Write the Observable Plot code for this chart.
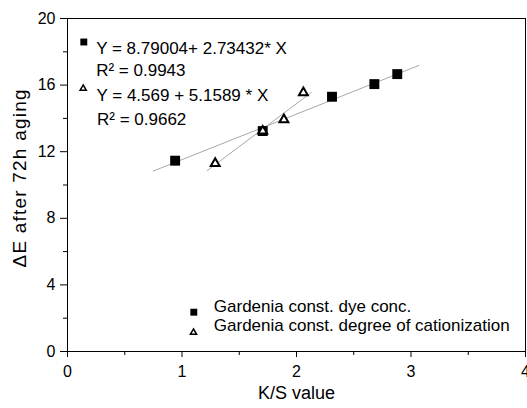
<!DOCTYPE html>
<html>
<head>
<meta charset="utf-8">
<script src="https://cdn.jsdelivr.net/npm/d3@7"></script>
<script src="https://cdn.jsdelivr.net/npm/@observablehq/plot@0.6"></script>
<style>
  html, body { margin: 0; padding: 0; background: #fff; }
  #chart svg { display: block; font-family: "Liberation Sans", Arial, sans-serif; }
</style>
</head>
<body>
<div id="chart"></div>
<script>
// Colour difference after 72 h ageing versus K/S for gardenia-dyed samples
const dyeKS = [0.94, 1.705, 2.31, 2.68, 2.88];
const dyeDE = [11.46, 13.24, 15.3, 16.06, 16.66];
const catKS = [1.29, 1.705, 1.89, 2.06];
const catDE = [11.3, 13.24, 13.93, 15.55];

const seriesNames = ["Gardenia const. dye conc.", "Gardenia const. degree of cationization"];

// Linear fits: Y = a + b * X
const fitIntercept = [8.79004, 4.569];
const fitSlope = [2.73432, 5.1589];
const fitFrom = [0.75, 1.22];
const fitTo = [3.07, 2.13];
const eqText = ["Y = 8.79004+ 2.73432* X", "Y = 4.569 + 5.1589 * X"];
const r2Text = ["R\u00b2 = 0.9943", "R\u00b2 = 0.9662"];

const xTicks = [0, 1, 2, 3, 4];
const xMinor = [0.5, 1.5, 2.5, 3.5];
const yTicks = [0, 4, 8, 12, 16, 20];
const yMinor = [2, 6, 10, 14, 18];
const xTitle = "K/S value";
const yTitle = "\u0394E after 72h aging";

const dyeData = dyeKS.map((k, i) => ({ks: k, de: dyeDE[i]}));
const catData = catKS.map((k, i) => ({ks: k, de: catDE[i]}));
const fitData = fitIntercept.flatMap((a, i) => [fitFrom[i], fitTo[i]].map(x => ({ks: x, de: a + fitSlope[i] * x, fit: i})));

const one = [0];
const legendFont = 17;
const intFormat = d3.format("d");

const chart = Plot.plot({
  width: 527,
  height: 408,
  marginLeft: 67,
  marginRight: 2,
  marginTop: 18,
  marginBottom: 57,
  style: {fontFamily: "'Liberation Sans', Arial, sans-serif", background: "#fff", color: "#000"},
  x: {domain: [0, 4], label: null},
  y: {domain: [0, 20], label: null},
  marks: [
    // axes with major and minor ticks
    Plot.axisX({ticks: xTicks, tickFormat: intFormat, tickSize: 6, tickPadding: 8, fontSize: 16, label: null, stroke: "#000"}),
    Plot.axisX({ticks: xMinor, tickSize: 4, tickFormat: () => "", label: null, stroke: "#000"}),
    Plot.axisY({ticks: yTicks, tickFormat: intFormat, tickSize: 7, tickPadding: 5, fontSize: 16, label: null, stroke: "#000"}),
    Plot.axisY({ticks: yMinor, tickSize: 4, tickFormat: () => "", label: null, stroke: "#000"}),
    Plot.frame({stroke: "#000", strokeWidth: 1}),

    // axis titles
    Plot.text(one, {text: () => xTitle, frameAnchor: "bottom", dy: 47, fontSize: 18, fill: "#000"}),
    Plot.text(one, {text: () => yTitle, frameAnchor: "left", textAnchor: "start", dx: -48, dy: 82.5, rotate: -90, fontSize: 19, fill: "#000"}),

    // fitted lines
    Plot.line(fitData, {x: "ks", y: "de", z: "fit", stroke: "#a8a8a8", strokeWidth: 1}),

    // data points
    Plot.dot(dyeData, {x: "ks", y: "de", symbol: "square", r: 5.6, fill: "#000", stroke: "none"}),
    Plot.dot(catData, {x: "ks", y: "de", symbol: "triangle", r: 3.3, fill: "#fff", stroke: "#000", strokeWidth: 2}),

    // fit equations (top-left)
    Plot.dot(one, {frameAnchor: "top-left", dx: 16.3, dy: 23.5, symbol: "square", r: 3.9, fill: "#000", stroke: "none"}),
    Plot.dot(one, {frameAnchor: "top-left", dx: 15.7, dy: 70, symbol: "triangle", r: 2.3, fill: "#fff", stroke: "#000", strokeWidth: 1.5}),
    Plot.text(one, {text: () => eqText[0], frameAnchor: "top-left", textAnchor: "start", dx: 28.7, dy: 23.3, fontSize: legendFont, fill: "#000"}),
    Plot.text(one, {text: () => r2Text[0], frameAnchor: "top-left", textAnchor: "start", dx: 28.7, dy: 45.6, fontSize: legendFont, fill: "#000"}),
    Plot.text(one, {text: () => eqText[1], frameAnchor: "top-left", textAnchor: "start", dx: 29, dy: 70.6, fontSize: legendFont, fill: "#000"}),
    Plot.text(one, {text: () => r2Text[1], frameAnchor: "top-left", textAnchor: "start", dx: 29.5, dy: 94.3, fontSize: legendFont, fill: "#000"}),

    // series legend (bottom)
    Plot.dot(one, {frameAnchor: "bottom-left", dx: 126.3, dy: -39.3, symbol: "square", r: 3.9, fill: "#000", stroke: "none"}),
    Plot.dot(one, {frameAnchor: "bottom-left", dx: 126, dy: -19, symbol: "triangle", r: 2.3, fill: "#fff", stroke: "#000", strokeWidth: 1.5}),
    Plot.text(one, {text: () => seriesNames[0], frameAnchor: "bottom-left", textAnchor: "start", dx: 146.3, dy: -39.8, fontSize: legendFont, fill: "#000"}),
    Plot.text(one, {text: () => seriesNames[1], frameAnchor: "bottom-left", textAnchor: "start", dx: 146.3, dy: -20.1, fontSize: legendFont, fill: "#000"})
  ]
});

// the vertical title is set a little wider than its natural length
d3.select(chart).selectAll("text")
  .filter(function () { return this.textContent === yTitle; })
  .attr("textLength", 178)
  .attr("lengthAdjust", "spacing");

document.getElementById("chart").appendChild(chart);
</script>
</body>
</html>
